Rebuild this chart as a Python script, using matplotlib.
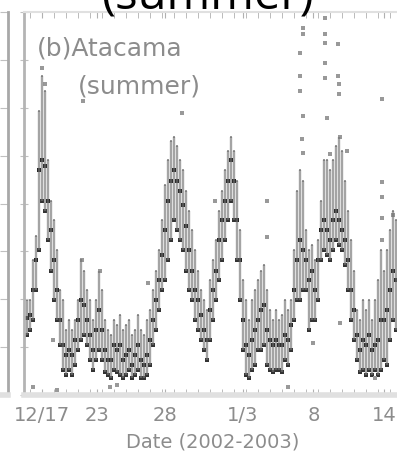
import numpy as np
import matplotlib
matplotlib.use("Agg")
import matplotlib.pyplot as plt
from matplotlib.ticker import MultipleLocator

# time axis: days after 12/17 00:00, 6-hourly samples
t_start = -0.25
t_step = 0.25

# upper / lower envelope and central value of each 6-h bin
hi = [1.98, 1.98, 2.81, 3.33, 5.94, 6.67, 6.35, 4.90, 4.06, 3.65, 3.02, 2.19, 1.98, 1.35, 1.56, 1.35,
      1.56, 1.98, 2.85, 2.60, 2.19, 1.98, 1.56, 1.98, 2.60, 2.19, 1.56, 1.35, 1.25, 1.56, 1.46, 1.67,
      1.35, 1.46, 1.56, 1.25, 1.35, 1.67, 1.35, 1.25, 1.56, 1.77, 2.19, 2.60, 3.02, 3.65, 4.38, 4.90,
      5.31, 5.38, 5.21, 4.90, 4.69, 4.27, 3.85, 3.44, 3.02, 2.60, 2.19, 1.98, 1.77, 2.40, 2.81, 3.23,
      3.85, 4.27, 4.69, 5.10, 5.38, 5.10, 4.48, 3.44, 2.40, 1.98, 1.56, 1.98, 2.19, 2.40, 2.60, 2.71,
      2.19, 1.77, 1.56, 1.77, 1.56, 1.67, 1.98, 1.77, 1.98, 3.02, 4.27, 4.69, 4.48, 3.44, 3.02, 3.13,
      2.81, 3.23, 4.06, 4.90, 4.90, 4.69, 4.90, 5.21, 5.38, 5.10, 4.48, 3.85, 3.23, 2.60, 1.77, 1.56,
      1.98, 1.77, 1.98, 1.56, 1.98, 2.40, 3.02, 2.60, 3.02, 3.44, 3.85, 3.65]
lo = [1.25, 1.35, 1.56, 2.19, 3.02, 4.06, 3.85, 3.23, 2.60, 1.98, 1.56, 1.04, 0.52, 0.42, 0.52, 0.42,
      0.63, 0.94, 1.15, 1.25, 1.04, 0.73, 0.52, 0.73, 0.94, 0.73, 0.48, 0.42, 0.35, 0.52, 0.48, 0.42,
      0.35, 0.42, 0.52, 0.35, 0.42, 0.52, 0.35, 0.35, 0.42, 0.63, 1.04, 1.35, 1.77, 2.19, 2.40, 2.81,
      3.23, 3.65, 3.44, 3.23, 3.02, 2.60, 2.19, 1.98, 1.56, 1.35, 1.15, 0.94, 0.73, 1.15, 1.56, 1.98,
      2.40, 2.81, 3.23, 3.65, 4.06, 3.65, 2.81, 1.98, 0.94, 0.42, 0.35, 0.52, 0.63, 0.94, 0.94, 1.04,
      0.63, 0.52, 0.48, 0.52, 0.52, 0.48, 0.73, 0.63, 0.94, 1.56, 1.98, 1.98, 2.19, 2.19, 1.35, 1.56,
      1.56, 1.98, 2.81, 3.02, 2.92, 2.81, 3.02, 3.23, 3.13, 3.02, 2.71, 2.19, 1.56, 1.15, 0.73, 0.48,
      0.52, 0.42, 0.52, 0.42, 0.52, 0.42, 0.52, 0.73, 0.63, 1.15, 1.56, 1.35]
mid = [1.60, 1.67, 2.19, 2.81, 4.69, 4.90, 4.79, 4.06, 3.44, 2.81, 2.19, 1.56, 1.04, 0.83, 0.94, 0.83,
       1.15, 1.56, 1.98, 1.88, 1.56, 1.25, 0.94, 1.35, 1.77, 1.35, 0.94, 0.73, 0.73, 1.04, 0.94, 1.04,
       0.73, 0.83, 0.94, 0.63, 0.83, 1.04, 0.73, 0.63, 0.83, 1.15, 1.56, 1.98, 2.40, 2.92, 3.44, 4.06,
       4.48, 4.69, 4.48, 4.27, 3.96, 3.54, 3.02, 2.60, 2.19, 1.98, 1.67, 1.35, 1.15, 1.77, 2.19, 2.60,
       3.23, 3.65, 4.06, 4.48, 4.90, 4.48, 3.65, 2.81, 1.56, 1.04, 0.83, 1.15, 1.35, 1.56, 1.77, 1.88,
       1.35, 1.15, 1.04, 1.15, 1.04, 1.04, 1.25, 1.15, 1.46, 2.19, 2.81, 3.23, 3.02, 2.81, 2.40, 2.60,
       2.19, 2.81, 3.44, 3.65, 3.44, 3.23, 3.65, 3.85, 3.65, 3.44, 3.23, 2.81, 2.19, 1.77, 1.25, 0.94,
       1.15, 1.04, 1.25, 0.94, 1.04, 1.15, 1.56, 1.56, 1.77, 2.19, 2.60, 2.40]

# isolated readings away from the main band
out_t = [22.75, 22.75, 22.5, 22.5, 22.5, 22.75, 22.67, 22.75, 24.58, 24.58, 24.58, 24.58, 24.58,
         24.75, 25.0, 25.67, 25.67, 25.75, 25.75, 25.83, 26.42, 29.33, 29.33, 29.33, 29.33, 29.33,
         25.83, 23.58, 21.5, 28.75, 30.25, 1.0, 1.25, 1.92, 4.33, 5.83, 9.83, 12.67, 15.42, 19.75,
         19.75, 4.42, 0.25, 2.25, 6.67, 7.25]
out_v = [7.67, 7.54, 7.15, 6.67, 6.35, 5.83, 5.35, 5.06, 7.88, 7.54, 7.35, 6.94, 6.63,
         5.79, 5.04, 7.33, 6.67, 6.50, 6.29, 5.38, 5.10, 6.19, 4.44, 4.13, 3.69, 3.23,
         1.50, 1.08, 0.17, 0.35, 3.75, 6.83, 6.50, 1.15, 2.81, 2.60, 2.33, 5.90, 4.06, 4.06,
         3.29, 6.15, 0.17, 0.10, 0.17, 0.21]

tick_pos = [1.0, 5.6, 11.25, 17.7, 23.6, 29.5]
tick_lab = ["12/17", "23", "28", "1/3", "8", "14"]

t = t_start + t_step * np.arange(len(mid))

W, H = 397, 458
fig = plt.figure(figsize=(W / 100, H / 100), dpi=100)
grey = "#8c8c8c"

# right edge of the neighbouring panel (a)
axl = fig.add_axes([-1.0, 63 / H, 1.0 + 8 / W, 383 / H])
for s in ["left", "top"]:
    axl.spines[s].set_visible(False)
axl.spines["right"].set_color("#a8a8a8")
axl.spines["right"].set_linewidth(2)
axl.spines["bottom"].set_color("#e0e0e0")
axl.spines["bottom"].set_linewidth(4)
axl.set_ylim(0, 8)
axl.yaxis.set_major_locator(MultipleLocator(1))
axl.yaxis.tick_right()
axl.tick_params(axis="y", direction="in", length=6, color="#c0c0c0", labelright=False)
axl.set_xticks([])

ax = fig.add_axes([24 / W, 63 / H, 377 / W, 383 / H])
ax.vlines(t, lo, hi, color="0.45", lw=1.7, alpha=0.65)
ax.scatter(t, mid, s=7, marker="s", color="0.1", linewidths=0)
ax.scatter(t, hi, s=4, marker="s", color="0.6", linewidths=0)
ax.scatter(t, lo, s=6, marker="s", color="0.2", linewidths=0)
ax.scatter(out_t, out_v, s=6, marker="s", color="0.6", linewidths=0)

ax.set_xlim(-0.5, 30.9)
ax.set_ylim(0, 8)
ax.set_xticks(tick_pos)
ax.set_xticklabels(tick_lab, fontsize=14, color=grey, family="DejaVu Sans")
ax.xaxis.set_minor_locator(MultipleLocator(1))
ax.yaxis.set_major_locator(MultipleLocator(1))
ax.tick_params(axis="y", direction="inout", length=6, color="#c0c0c0", labelleft=False)
ax.tick_params(axis="x", which="both", direction="in", length=4, color="#b0b0b0",
               top=True, pad=8)
ax.spines["left"].set_color("#b4b4b4")
ax.spines["left"].set_linewidth(2)
ax.spines["bottom"].set_color("#e0e0e0")
ax.spines["bottom"].set_linewidth(4)
ax.spines["top"].set_color("#e0e0e0")
ax.spines["top"].set_linewidth(1.5)
ax.spines["right"].set_visible(False)

ax.set_xlabel("Date (2002-2003)", fontsize=14, color=grey, family="DejaVu Sans", labelpad=5)

ax.text(0.034, 0.935, "(b)Atacama", transform=ax.transAxes, fontsize=18, color=grey,
        family="DejaVu Sans", va="top", ha="left")
ax.text(0.143, 0.838, "(summer)", transform=ax.transAxes, fontsize=18, color=grey,
        family="DejaVu Sans", va="top", ha="left")

fig.text(207 / W, 1 - 9 / H, "(summer)", fontsize=34, color="black", family="Open Sans",
         ha="center", va="baseline")

fig.savefig("out.png", dpi=100)
